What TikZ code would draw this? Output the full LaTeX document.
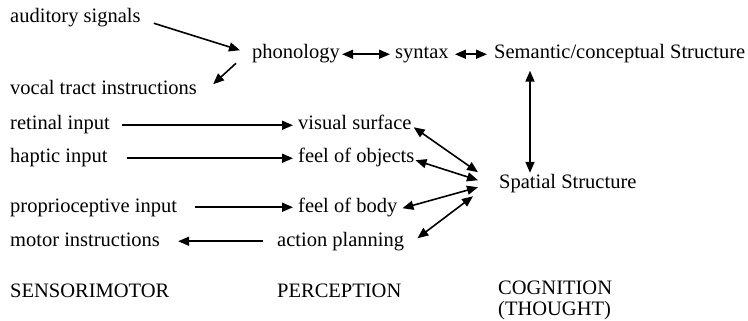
\documentclass[tikz,border=0pt]{standalone}
\usepackage{fontspec}
\setmainfont{Liberation Serif}
\usetikzlibrary{arrows.meta,calc}
\tikzset{
  lbl/.style={anchor=base west, inner sep=0pt, text height=14pt, text depth=4.5pt,
    font=\fontsize{20.5}{24}\selectfont},
  arr/.style={line width=1.6pt, -{Triangle[length=11pt,width=9pt]}},
  dbl/.style={line width=1.6pt, {Triangle[length=11pt,width=9pt]}-{Triangle[length=11pt,width=9pt]}}
}
\begin{document}
\begin{tikzpicture}[x=1pt,y=-1pt]
\useasboundingbox (0,0) rectangle (748,321);
\node[lbl] (aud) at (10,23) {auditory signals};
\node[lbl] (phon) at (252,59) {phonology};
\node[lbl] (syn) at (395,59) {syntax};
\node[lbl] (sem) at (494,59) {Semantic/conceptual Structure};
\node[lbl] (vocal) at (10,95) {vocal tract instructions};
\node[lbl] (ret) at (10,130) {retinal input};
\node[lbl] (vis) at (298,130) {visual surface};
\node[lbl] (hap) at (10,163) {haptic input};
\node[lbl] (obj) at (298,163) {feel of objects};
\node[lbl] (spa) at (499,188) {Spatial Structure};
\node[lbl] (pro) at (10,212) {proprioceptive input};
\node[lbl] (body) at (298,212) {feel of body};
\node[lbl] (mot) at (10,246) {motor instructions};
\node[lbl] (act) at (277,246) {action planning};
\node[lbl] (sens) at (10,297) {SENSORIMOTOR};
\node[lbl] (perc) at (277,297) {PERCEPTION};
\node[lbl] (cog) at (498,294) {COGNITION};
\node[lbl] (thought) at (498,315.5) {(THOUGHT)};

\draw[arr] ($(aud.east)+(13,5)$) -- ($(phon.west)+(-12,-4)$);
\draw[arr] ($(phon.west)+(-16,9)$) -- ($(vocal.east)+(16,-6)$);
\draw[dbl, shorten <=2pt, shorten >=5pt] (phon.east) -- (syn.west);
\draw[dbl, shorten <=6pt, shorten >=7pt] (syn.east) -- (sem.west);
\draw[dbl] ($(sem.south west)+(36,7)$) -- ($(spa.north west)+(31,-1)$);
\draw[arr, shorten <=12pt, shorten >=5pt] (ret.east) -- (vis.west);
\draw[arr, shorten <=19pt, shorten >=5pt] (hap.east) -- (obj.west);
\draw[arr, shorten <=18pt, shorten >=5pt] (pro.east) -- (body.west);
\draw[arr, shorten <=14pt, shorten >=18pt] (act.west) -- (mot.east);
\draw[dbl] ($(vis.east)+(2,2)$) -- ($(spa.west)+(-21,-11)$);
\draw[dbl] ($(obj.east)+(1,2)$) -- ($(spa.west)+(-21,-3)$);
\draw[dbl] ($(body.east)+(5,1)$) -- ($(spa.west)+(-21,4)$);
\draw[dbl] ($(act.east)+(13,-3)$) -- ($(spa.west)+(-26,13)$);
\end{tikzpicture}
\end{document}
